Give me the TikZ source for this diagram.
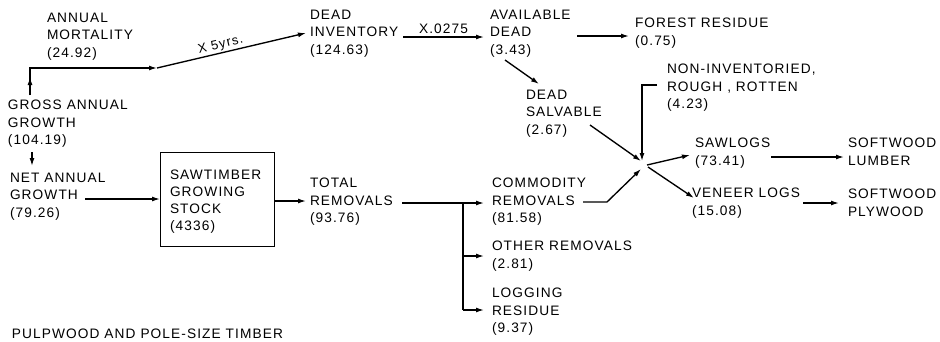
\documentclass[tikz,border=0pt]{standalone}
\usepackage{fontspec}
\setmainfont{Liberation Sans}[LetterSpace=8]
\usetikzlibrary{arrows.meta}
\tikzset{
  lbl/.style={anchor=north west, inner sep=0pt, outer sep=0pt, align=left,
    font=\fontsize{13.7}{17.5}\selectfont},
  boxlbl/.style={lbl, font=\fontsize{13.7}{17}\selectfont},
  arr/.style={line width=1.35pt, -{Latex[length=8pt,width=5pt]}},
  ln/.style={line width=1.35pt},
  stockbox/.style={draw, line width=1.35pt, inner sep=0pt, anchor=north west}
}
\begin{document}
\begin{tikzpicture}[x=1pt, y=-1pt]
\useasboundingbox (0,0) rectangle (940,341);

% ---- labels ----
\node[lbl] (mort) at (47,13) {ANNUAL\\MORTALITY\\(24.92)};
\node[lbl] (gross) at (8,100) {GROSS ANNUAL\\GROWTH\\(104.19)};
\node[lbl] (net) at (10,173) {NET ANNUAL\\GROWTH\\(79.26)};
\node[stockbox, minimum width=114pt, minimum height=94pt] (stock) at (160,152) {};
\node[boxlbl] (stocktxt) at (170,170) {SAWTIMBER\\GROWING\\STOCK\\(4336)};
\node[lbl] (total) at (310,178) {TOTAL\\REMOVALS\\(93.76)};
\node[lbl] (deadinv) at (310,10) {DEAD\\INVENTORY\\(124.63)};
\node[lbl] (avail) at (490,10) {AVAILABLE\\DEAD\\(3.43)};
\node[lbl] (forest) at (635,18) {FOREST RESIDUE\\(0.75)};
\node[lbl] (salv) at (526,90) {DEAD\\SALVABLE\\(2.67)};
\node[lbl] (noninv) at (667,64) {NON-INVENTORIED,\\ROUGH , ROTTEN\\(4.23)};
\node[lbl] (saw) at (695,138) {SAWLOGS\\(73.41)};
\node[lbl] (ven) at (692,188) {VENEER LOGS\\(15.08)};
\node[lbl] (lumber) at (848,138) {SOFTWOOD\\LUMBER};
\node[lbl] (plywood) at (848,189) {SOFTWOOD\\PLYWOOD};
\node[lbl] (comm) at (492,178) {COMMODITY\\REMOVALS\\(81.58)};
\node[lbl] (other) at (492,241) {OTHER REMOVALS\\(2.81)};
\node[lbl] (logres) at (492,288) {LOGGING\\RESIDUE\\(9.37)};
\node[lbl] (pulp) at (12,329) {PULPWOOD AND POLE-SIZE TIMBER};

% ---- connector end points ----
\coordinate (gtop) at (30,95);
\coordinate (gmid) at (30,77);
\coordinate (c1) at (30,68);
\coordinate (c2) at (157,68);
\coordinate (dinA) at (306,33);
\coordinate (x1) at (403,37);
\coordinate (x2) at (484,37);
\coordinate (f1) at (577,36);
\coordinate (f2) at (629,36);
\coordinate (s1) at (505,60);
\coordinate (s2) at (539,84);
\coordinate (s3) at (590,125);
\coordinate (hubA) at (641,161);
\coordinate (n1) at (657,85);
\coordinate (n2) at (642,85);
\coordinate (hubN) at (642,161);
\coordinate (k1) at (583,202);
\coordinate (k2) at (607,202);
\coordinate (hubC) at (641,169);
\coordinate (hubS) at (647,165);
\coordinate (sawin) at (690,155);
\coordinate (hubV) at (648,167);
\coordinate (venin) at (694,198);
\coordinate (l1) at (771,157);
\coordinate (l2) at (844,157);
\coordinate (p1) at (803,203);
\coordinate (p2) at (839,203);
\coordinate (gd1) at (32,152);
\coordinate (gd2) at (32,166);
\coordinate (na1) at (85,199);
\coordinate (na2) at (160,199);
\coordinate (b1) at (274,201);
\coordinate (b2) at (306,201);
\coordinate (t1) at (402,203);
\coordinate (tj) at (463,203);
\coordinate (tjo) at (463,256);
\coordinate (tjl) at (463,310);
\coordinate (ca) at (484,203);
\coordinate (oa) at (484,256);
\coordinate (la) at (484,310);

% ---- connectors ----
\draw[arr] (gtop) -- (c1) -- (c2);
\draw[arr] (gtop) -- (gmid);
\draw[arr] (c2) -- (dinA) node[pos=0.44, above=0.5pt, sloped, inner sep=1pt,
  font=\fontsize{13}{15}\selectfont] (five) {X 5yrs.};
\draw[arr] (x1) -- (x2) node[midway, above=2pt, inner sep=1pt,
  font=\fontsize{13.7}{15}\selectfont] (rate) {X.0275};
\draw[arr] (f1) -- (f2);
\draw[arr] (s1) -- (s2);
\draw[arr] (s3) -- (hubA);
\draw[arr] (n1) -- (n2) -- (hubN);
\draw[arr] (k1) -- (k2) -- (hubC);
\draw[arr] (hubS) -- (sawin);
\draw[arr] (hubV) -- (venin);
\draw[arr] (l1) -- (l2);
\draw[arr] (p1) -- (p2);
\draw[arr] (gd1) -- (gd2);
\draw[arr] (na1) -- (na2);
\draw[arr] (b1) -- (b2);
\draw[ln] (t1) -- (tj) -- (tjl);
\draw[arr] (tj) -- (ca);
\draw[arr] (tjo) -- (oa);
\draw[arr] (tjl) -- (la);
\end{tikzpicture}
\end{document}
